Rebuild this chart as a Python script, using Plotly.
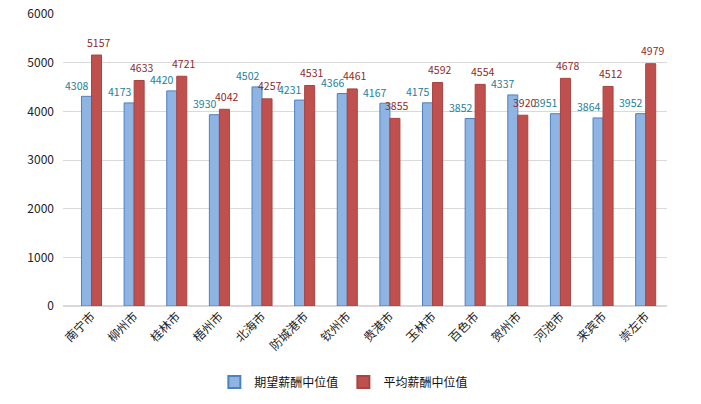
import plotly.graph_objects as go

cities = ["南宁市", "柳州市", "桂林市", "梧州市", "北海市", "防城港市", "钦州市",
          "贵港市", "玉林市", "百色市", "贺州市", "河池市", "来宾市", "崇左市"]
expected = [4308, 4173, 4420, 3930, 4502, 4231, 4366, 4167, 4175, 3852, 4337, 3951, 3864, 3952]
average = [5157, 4633, 4721, 4042, 4257, 4531, 4461, 3855, 4592, 4554, 3920, 4678, 4512, 4979]

font_family = "Noto Sans CJK SC, DejaVu Sans, sans-serif"

fig = go.Figure()
fig.add_trace(go.Bar(
    x=cities, y=expected, name="期望薪酬中位值",
    marker=dict(color="#8DB4E2", line=dict(color="#4F81BD", width=1)),
))
fig.add_trace(go.Bar(
    x=cities, y=average, name="平均薪酬中位值",
    marker=dict(color="#C0504D", line=dict(color="#A94441", width=1)),
))

annotations = []
for c, v in zip(cities, expected):
    annotations.append(dict(x=c, y=v, xref="x", yref="y", text=str(v), showarrow=False,
                            xshift=-15, yshift=11, font=dict(size=10.5, color="#23809A", family=font_family)))
for c, v in zip(cities, average):
    annotations.append(dict(x=c, y=v, xref="x", yref="y", text=str(v), showarrow=False,
                            xshift=7, yshift=13, font=dict(size=10.5, color="#8E2A2A", family=font_family)))

fig.update_layout(
    width=701, height=404,
    margin=dict(l=63, r=34, t=14, b=98, autoexpand=False),
    paper_bgcolor="white", plot_bgcolor="white",
    barmode="group", bargap=0.53, bargroupgap=0.0,
    font=dict(family=font_family, size=12, color="#222222"),
    annotations=annotations,
    showlegend=True,
    legend=dict(orientation="h", x=0.465, xanchor="center", y=-0.26, yanchor="middle",
                font=dict(size=12, color="#111111"), itemsizing="constant"),
)
fig.update_yaxes(range=[0, 6000], dtick=1000, showgrid=True, gridcolor="#D9D9D9", gridwidth=1,
                 zeroline=True, zerolinecolor="#D9D9D9", showline=False, automargin=False,
                 tickfont=dict(size=12, color="#222222"), ticks="", ticklabelstandoff=8)
fig.update_xaxes(tickangle=-45, tickfont=dict(size=12, color="#222222"), showline=False, ticks="",
                 automargin=False)

fig.write_html("out.html")
